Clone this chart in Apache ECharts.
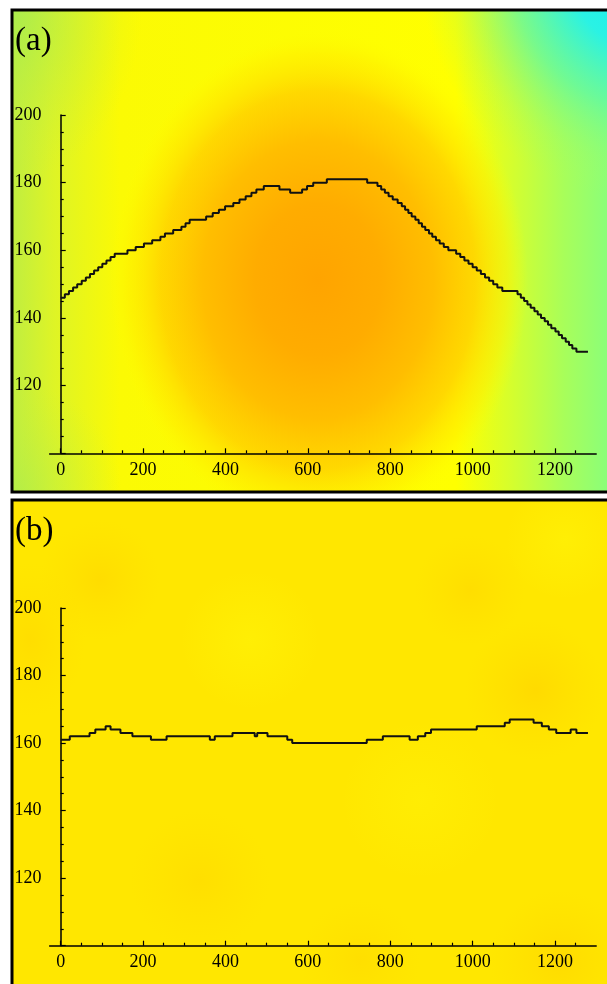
<!DOCTYPE html>
<html>
<head>
<meta charset="utf-8">
<title>Profiles (a) and (b)</title>
<script src="https://cdn.jsdelivr.net/npm/echarts@6/dist/echarts.min.js"></script>
<style>
  html, body { margin: 0; padding: 0; background: #fff; }
  #chart { width: 607px; height: 984px; }
</style>
</head>
<body>
<div id="chart"></div>
<script>
// panel (a): x where each level starts, and the level (last point closes the line)
const aX = [0, 10, 20, 30, 40, 51, 61, 71, 81, 91, 101, 111, 121, 131, 162, 182, 202, 222, 242, 253,
  273, 293, 303, 313, 353, 369, 384, 399, 419, 434, 449, 463, 475, 493, 531, 557, 586, 598, 613, 646,
  744, 769, 778, 787, 796, 806, 818, 828, 836, 844, 852, 861, 869, 877, 885, 894, 902, 911, 920, 930,
  941, 960, 970, 980, 990, 1000, 1010, 1020, 1030, 1040, 1050, 1060, 1072, 1109, 1117, 1125, 1133, 1141,
  1150, 1158, 1166, 1175, 1183, 1191, 1201, 1209, 1217, 1226, 1234, 1242, 1252, 1280];
const aY = [146, 147, 148, 149, 150, 151, 152, 153, 154, 155, 156, 157, 158, 159, 160, 161, 162, 163, 164, 165,
  166, 167, 168, 169, 170, 171, 172, 173, 174, 175, 176, 177, 178, 179, 178, 177, 178, 179, 180, 181,
  180, 179, 178, 177, 176, 175, 174, 173, 172, 171, 170, 169, 168, 167, 166, 165, 164, 163, 162, 161,
  160, 159, 158, 157, 156, 155, 154, 153, 152, 151, 150, 149, 148, 147, 146, 145, 144, 143,
  142, 141, 140, 139, 138, 137, 136, 135, 134, 133, 132, 131, 130, 130];

// panel (b)
const bX = [0, 22, 70, 84, 109, 121, 145, 174, 219, 257, 362, 374, 417, 471, 477, 502, 550, 562, 743, 782,
  847, 867, 885, 899, 1010, 1078, 1090, 1148, 1168, 1185, 1203, 1238, 1252, 1280];
const bY = [161, 162, 163, 164, 165, 164, 163, 162, 161, 162, 161, 162, 163, 162, 163, 162, 161, 160, 161, 162,
  161, 162, 163, 164, 165, 166, 167, 166, 165, 164, 163, 164, 163, 163];

const xMajor = [0, 200, 400, 600, 800, 1000, 1200];
const xMinor = [50, 100, 150, 250, 300, 350, 450, 500, 550, 650, 700, 750, 850, 900, 950,
  1050, 1100, 1150, 1250];

const chart = echarts.init(document.getElementById('chart'));
const serif = 'Liberation Serif';
const ink = '#000';

const pairs = (xs, ys) => xs.map((x, i) => [x, ys[i]]);

// soft colour spot, stretched vertically by sy, clipped to the panel box
function spot(box, cx, cy, r, sy, stops) {
  return {
    type: 'rect', silent: true, z: -8,
    originX: cx, originY: cy, scaleY: sy,
    shape: { x: box[0], y: cy - (cy - box[1]) / sy, width: box[2], height: box[3] / sy },
    style: { fill: new echarts.graphic.RadialGradient(cx, cy, r, stops, true) }
  };
}

const boxA = [12, 10, 600, 482];
const boxB = [12, 500, 600, 490];

const dark = (a) => [
  { offset: 0, color: 'rgba(255,208,0,' + a + ')' },
  { offset: 1, color: 'rgba(255,215,0,0)' }
];
const light = (a) => [
  { offset: 0, color: 'rgba(255,248,10,' + a + ')' },
  { offset: 1, color: 'rgba(255,248,10,0)' }
];

const graphics = [
  {
    type: 'rect', silent: true, z: -10,
    shape: { x: boxA[0], y: boxA[1], width: boxA[2], height: boxA[3] },
    style: {
      fill: new echarts.graphic.LinearGradient(0, 0, 1, 0, [
        { offset: 0, color: '#c0ee40' },
        { offset: 0.07, color: '#def426' },
        { offset: 0.18, color: '#fbfa04' },
        { offset: 0.74, color: '#ffff00' },
        { offset: 0.83, color: '#d6fe2c' },
        { offset: 0.92, color: '#a8fe5a' },
        { offset: 1, color: '#88fe7c' }
      ])
    }
  },
  spot(boxA, 12, 10, 130, 1.3, [
    { offset: 0, color: 'rgba(165,236,80,0.8)' },
    { offset: 1, color: 'rgba(200,240,60,0)' }
  ]),
  spot(boxA, 12, 492, 110, 1, [
    { offset: 0, color: 'rgba(175,238,75,0.7)' },
    { offset: 1, color: 'rgba(200,240,60,0)' }
  ]),
  spot(boxA, 318, 280, 210, 1.2, [
    { offset: 0, color: '#ffa400' },
    { offset: 0.3, color: '#ffac00' },
    { offset: 0.55, color: '#ffbe00' },
    { offset: 0.75, color: 'rgba(255,212,0,0.9)' },
    { offset: 0.9, color: 'rgba(255,236,0,0.5)' },
    { offset: 1, color: 'rgba(255,255,0,0)' }
  ]),
  spot(boxA, 650, -30, 230, 1, [
    { offset: 0, color: '#10eef8' },
    { offset: 0.35, color: '#2af2e4' },
    { offset: 0.6, color: 'rgba(90,248,170,0.7)' },
    { offset: 0.85, color: 'rgba(150,252,110,0.25)' },
    { offset: 1, color: 'rgba(170,255,90,0)' }
  ]),
  {
    type: 'rect', silent: true, z: -10,
    shape: { x: boxB[0], y: boxB[1], width: boxB[2], height: boxB[3] },
    style: { fill: '#ffe700' }
  },
  spot(boxB, 100, 580, 60, 1, dark(0.45)),
  spot(boxB, 30, 640, 55, 1.4, dark(0.4)),
  spot(boxB, 470, 590, 55, 1, dark(0.4)),
  spot(boxB, 535, 690, 70, 1, dark(0.55)),
  spot(boxB, 200, 880, 70, 1, dark(0.35)),
  spot(boxB, 560, 960, 70, 1, dark(0.5)),
  spot(boxB, 360, 960, 60, 1, dark(0.35)),
  spot(boxB, 250, 640, 70, 1, light(0.45)),
  spot(boxB, 565, 540, 60, 1, light(0.45)),
  spot(boxB, 420, 800, 80, 1, light(0.35)),
  {
    type: 'rect', silent: true, z: 10,
    shape: { x: boxA[0], y: boxA[1], width: boxA[2] + 20, height: boxA[3] },
    style: { fill: 'none', stroke: ink, lineWidth: 3 }
  },
  {
    type: 'rect', silent: true, z: 10,
    shape: { x: boxB[0], y: boxB[1], width: boxB[2] + 20, height: boxB[3] + 20 },
    style: { fill: 'none', stroke: ink, lineWidth: 3 }
  },
  {
    type: 'text', silent: true, z: 11, x: 15, y: 41,
    style: { text: '(a)', font: '33px ' + serif, fill: ink, verticalAlign: 'middle' }
  },
  {
    type: 'text', silent: true, z: 11, x: 15, y: 531,
    style: { text: '(b)', font: '33px ' + serif, fill: ink, verticalAlign: 'middle' }
  }
];

const tickLine = { color: ink, width: 1.2 };
const labelStyle = {
  color: ink, fontFamily: serif, fontSize: 18, margin: 8,
  formatter: (v) => String(v)
};

function xAxes(g) {
  return [
    {
      type: 'value', gridIndex: g, position: 'bottom', min: -27, max: 1300,
      axisLine: { show: true, onZero: false, lineStyle: { color: ink, width: 1.5 } },
      axisTick: { show: true, inside: true, length: 5, customValues: xMajor, lineStyle: tickLine },
      axisLabel: Object.assign({ customValues: xMajor }, labelStyle),
      splitLine: { show: false }
    },
    {
      type: 'value', gridIndex: g, position: 'bottom', min: -27, max: 1300,
      axisLine: { show: false, onZero: false },
      axisTick: { show: true, inside: true, length: 3, customValues: xMinor, lineStyle: tickLine },
      axisLabel: { show: false },
      splitLine: { show: false }
    }
  ];
}

function yAxis(g) {
  return {
    type: 'value', gridIndex: g, min: 100, max: 200, interval: 20,
    axisLine: { show: true, onZero: true, onZeroAxisIndex: g * 2, lineStyle: { color: ink, width: 1.5 } },
    axisTick: { show: true, inside: true, length: 5, lineStyle: tickLine },
    minorTick: { show: true, splitNumber: 4, length: 3, lineStyle: tickLine },
    axisLabel: Object.assign({ showMinLabel: false }, labelStyle),
    splitLine: { show: false },
    minorSplitLine: { show: false }
  };
}

const lineStyle = { color: '#111', width: 2 };

chart.setOption({
  animation: false,
  backgroundColor: '#fff',
  graphic: graphics,
  grid: [
    { left: 49.6, right: 10.8, top: 115, height: 338.3, outerBoundsMode: 'none' },
    { left: 49.6, right: 10.8, top: 608, height: 337.7, outerBoundsMode: 'none' }
  ],
  xAxis: xAxes(0).concat(xAxes(1)),
  yAxis: [yAxis(0), yAxis(1)],
  series: [
    {
      type: 'line', xAxisIndex: 0, yAxisIndex: 0, step: 'end', symbol: 'none',
      data: pairs(aX, aY), lineStyle: lineStyle
    },
    {
      type: 'line', xAxisIndex: 2, yAxisIndex: 1, step: 'end', symbol: 'none',
      data: pairs(bX, bY), lineStyle: lineStyle
    }
  ]
});
</script>
</body>
</html>
